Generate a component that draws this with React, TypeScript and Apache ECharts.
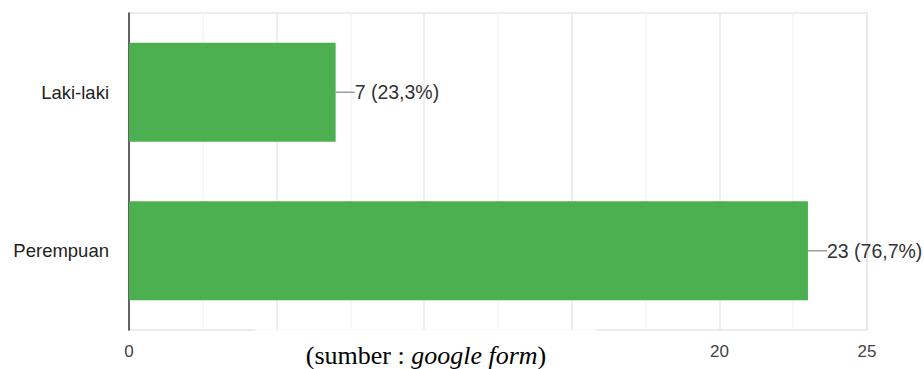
import React, { useEffect, useRef } from "react";
import * as echarts from "echarts";

const categories = ["Laki-laki", "Perempuan"];
const counts = [7, 23];
// ticks at 5, 10, 15 are hidden behind the caption box in the reference
const xTickLabels = ["0", "", "", "", "20", "25"];
const captionParts = ["(sumber : ", "google form", ")"];

export default function App() {
  const ref = useRef<HTMLDivElement>(null);
  useEffect(() => {
    document.body.style.margin = "0";
    const chart = echarts.init(ref.current!, null, { renderer: "svg" });
    const total = counts.reduce((a, b) => a + b, 0);
    const font = "'Liberation Sans', Arial, Helvetica, sans-serif";
    const serif = "'Liberation Serif', 'Times New Roman', serif";
    chart.setOption({
      animation: false,
      backgroundColor: "#ffffff",
      grid: {
        left: 129,
        right: 57,
        top: 13,
        bottom: 39,
        show: true,
        borderColor: "#e6e6e6",
        borderWidth: 1.5,
      },
      xAxis: {
        type: "value",
        min: 0,
        max: 25,
        interval: 5,
        axisLine: { show: false },
        axisTick: { show: false },
        axisLabel: {
          fontSize: 17,
          color: "#444",
          margin: 13,
          fontFamily: font,
          formatter: (v: number) => xTickLabels[Math.round(v / 5)] ?? "",
        },
        splitLine: { show: true, lineStyle: { color: "#e8e8e8", width: 1.5 } },
        minorTick: { show: false, splitNumber: 2 },
        minorSplitLine: { show: true, lineStyle: { color: "#f4f4f4", width: 1.5 } },
      },
      yAxis: {
        type: "category",
        inverse: true,
        data: categories,
        axisLine: { show: true, lineStyle: { color: "#333", width: 1.5 } },
        axisTick: { show: false },
        axisLabel: { fontSize: 18.5, color: "#222", margin: 20, fontFamily: font },
        splitLine: { show: false },
      },
      series: [
        {
          type: "bar",
          data: counts,
          barCategoryGap: "37.5%",
          itemStyle: { color: "#4caf50" },
          label: {
            show: true,
            position: "right",
            distance: 0,
            formatter: (p: any) => {
              const pct = ((p.value / total) * 100).toFixed(1).replace(".", ",");
              return `{l|}{t|${p.value} (${pct}%)}`;
            },
            rich: {
              l: { width: 19, height: 1.5, backgroundColor: "#9e9e9e" },
              t: { fontSize: 19.5, color: "#333", fontFamily: font },
            },
          },
        },
      ],
      graphic: [
        {
          type: "rect",
          z: 100,
          shape: { x: 255, y: 329.5, width: 341, height: 40 },
          style: { fill: "#ffffff" },
        },
        {
          type: "text",
          z: 101,
          x: 426,
          y: 355,
          style: {
            text: `{a|${captionParts[0]}}{b|${captionParts[1]}}{a|${captionParts[2]}}`,
            align: "center",
            verticalAlign: "middle",
            rich: {
              a: { fontSize: 26, fontFamily: serif, fill: "#000" },
              b: { fontSize: 26, fontStyle: "italic", fontFamily: serif, fill: "#000" },
            },
          },
        },
      ],
    });
    return () => chart.dispose();
  }, []);
  return (
    <div
      ref={ref}
      style={{ position: "fixed", left: 0, top: 0, width: 924, height: 369 }}
    />
  );
}
